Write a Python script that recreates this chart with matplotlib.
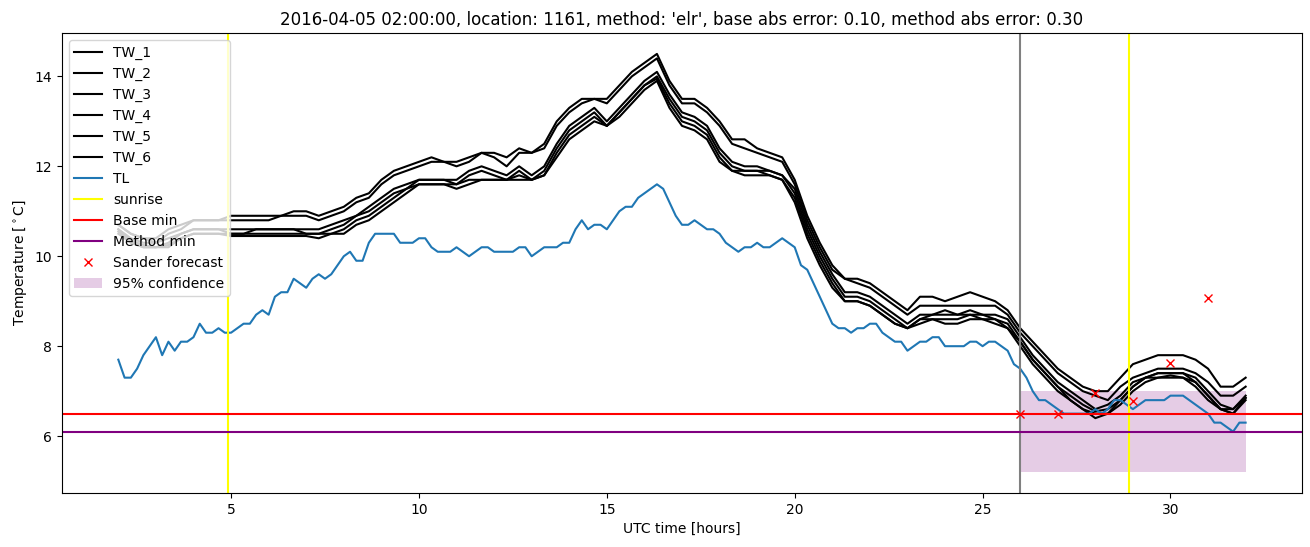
import numpy as np
import matplotlib
matplotlib.use('Agg')
import matplotlib.pyplot as plt

# TL: 10 minute values from 02:00 to 32:00
tl = [7.7, 7.3, 7.3, 7.5, 7.8, 8.0,
      8.2, 7.8, 8.1, 7.9, 8.1, 8.1,
      8.2, 8.5, 8.3, 8.3, 8.4, 8.3,
      8.3, 8.4, 8.5, 8.5, 8.7, 8.8,
      8.7, 9.1, 9.2, 9.2, 9.5, 9.4,
      9.3, 9.5, 9.6, 9.5, 9.6, 9.8,
      10.0, 10.1, 9.9, 9.9, 10.3, 10.5,
      10.5, 10.5, 10.5, 10.3, 10.3, 10.3,
      10.4, 10.4, 10.2, 10.1, 10.1, 10.1,
      10.2, 10.1, 10.0, 10.1, 10.2, 10.2,
      10.1, 10.1, 10.1, 10.1, 10.2, 10.2,
      10.0, 10.1, 10.2, 10.2, 10.2, 10.3,
      10.3, 10.6, 10.8, 10.6, 10.7, 10.7,
      10.6, 10.8, 11.0, 11.1, 11.1, 11.3,
      11.4, 11.5, 11.6, 11.5, 11.2, 10.9,
      10.7, 10.7, 10.8, 10.7, 10.6, 10.6,
      10.5, 10.3, 10.2, 10.1, 10.2, 10.2,
      10.3, 10.2, 10.2, 10.3, 10.4, 10.3,
      10.2, 9.8, 9.7, 9.4, 9.1, 8.8,
      8.5, 8.4, 8.4, 8.3, 8.4, 8.4,
      8.5, 8.5, 8.3, 8.2, 8.1, 8.1,
      7.9, 8.0, 8.1, 8.1, 8.2, 8.2,
      8.0, 8.0, 8.0, 8.0, 8.1, 8.1,
      8.0, 8.1, 8.1, 8.0, 7.9, 7.6,
      7.5, 7.3, 7.0, 6.8, 6.8, 6.7,
      6.6, 6.5, 6.5, 6.5, 6.5, 6.5,
      6.6, 6.5, 6.6, 6.8, 6.8, 6.7,
      6.6, 6.7, 6.8, 6.8, 6.8, 6.8,
      6.9, 6.9, 6.9, 6.8, 6.7, 6.6,
      6.5, 6.3, 6.3, 6.2, 6.1, 6.3,
      6.3]

# TW_1..TW_6: 20 minute values from 02:00 to 32:00
tw_1 = [10.7, 10.5, 10.4, 10.4, 10.6, 10.7, 10.8, 10.8, 10.8, 10.9, 10.9, 10.9,
        10.9, 10.9, 11.0, 11.0, 10.9, 11.0, 11.1, 11.3, 11.4, 11.7, 11.9, 12.0,
        12.1, 12.2, 12.1, 12.1, 12.2, 12.3, 12.3, 12.2, 12.4, 12.3, 12.5, 13.0,
        13.3, 13.5, 13.5, 13.5, 13.8, 14.1, 14.3, 14.5, 13.9, 13.5, 13.5, 13.3,
        13.0, 12.6, 12.6, 12.4, 12.3, 12.2, 11.7, 10.9, 10.3, 9.8, 9.5, 9.5,
        9.4, 9.2, 9.0, 8.8, 9.1, 9.1, 9.0, 9.1, 9.2, 9.1, 9.0, 8.8,
        8.4, 8.1, 7.8, 7.5, 7.3, 7.1, 7.0, 7.0, 7.3, 7.6, 7.7, 7.8,
        7.8, 7.8, 7.7, 7.5, 7.1, 7.1, 7.3]
tw_2 = [10.7, 10.5, 10.4, 10.3, 10.5, 10.6, 10.8, 10.8, 10.8, 10.8, 10.8, 10.8,
        10.8, 10.9, 10.9, 10.9, 10.8, 10.9, 11.0, 11.2, 11.3, 11.6, 11.8, 11.9,
        12.0, 12.1, 12.1, 12.0, 12.1, 12.3, 12.2, 12.0, 12.3, 12.3, 12.4, 12.9,
        13.2, 13.4, 13.5, 13.4, 13.7, 14.0, 14.2, 14.4, 13.8, 13.4, 13.4, 13.2,
        12.9, 12.5, 12.4, 12.3, 12.2, 12.1, 11.6, 10.8, 10.2, 9.7, 9.5, 9.4,
        9.3, 9.1, 8.9, 8.7, 8.9, 8.9, 8.9, 8.9, 8.9, 8.9, 8.9, 8.7,
        8.3, 8.0, 7.7, 7.4, 7.2, 7.0, 6.9, 6.8, 7.1, 7.3, 7.4, 7.5,
        7.5, 7.5, 7.4, 7.2, 6.9, 6.9, 7.1]
tw_3 = [10.6, 10.4, 10.3, 10.3, 10.4, 10.5, 10.6, 10.6, 10.6, 10.6, 10.6, 10.6,
        10.6, 10.6, 10.6, 10.6, 10.6, 10.7, 10.8, 10.9, 11.1, 11.3, 11.5, 11.6,
        11.7, 11.7, 11.7, 11.7, 11.9, 12.0, 11.9, 11.8, 12.0, 11.8, 12.0, 12.5,
        12.9, 13.1, 13.3, 13.0, 13.3, 13.6, 13.9, 14.1, 13.6, 13.2, 13.1, 12.9,
        12.4, 12.1, 12.0, 12.0, 11.9, 11.8, 11.5, 10.7, 10.1, 9.6, 9.2, 9.2,
        9.1, 8.9, 8.7, 8.5, 8.7, 8.7, 8.8, 8.7, 8.8, 8.7, 8.7, 8.6,
        8.2, 7.8, 7.5, 7.2, 7.0, 6.8, 6.6, 6.7, 6.9, 7.2, 7.3, 7.4,
        7.4, 7.4, 7.3, 7.0, 6.7, 6.6, 6.9]
tw_4 = [10.6, 10.35, 10.25, 10.2, 10.3, 10.5, 10.6, 10.6, 10.6, 10.5, 10.5, 10.6,
        10.6, 10.6, 10.6, 10.5, 10.5, 10.6, 10.7, 10.9, 11.0, 11.2, 11.4, 11.5,
        11.7, 11.7, 11.7, 11.6, 11.8, 11.9, 11.8, 11.7, 11.9, 11.7, 11.9, 12.4,
        12.8, 13.0, 13.2, 12.9, 13.2, 13.5, 13.8, 14.0, 13.5, 13.1, 13.0, 12.8,
        12.3, 12.0, 11.9, 11.9, 11.9, 11.8, 11.4, 10.6, 10.0, 9.5, 9.1, 9.1,
        9.0, 8.8, 8.6, 8.4, 8.6, 8.7, 8.7, 8.7, 8.7, 8.7, 8.6, 8.5,
        8.1, 7.7, 7.4, 7.1, 6.9, 6.7, 6.55, 6.6, 6.8, 7.1, 7.3, 7.4,
        7.4, 7.4, 7.2, 6.9, 6.6, 6.6, 6.85]
tw_5 = [10.55, 10.3, 10.2, 10.2, 10.25, 10.4, 10.5, 10.5, 10.5, 10.5, 10.5, 10.5,
        10.5, 10.5, 10.5, 10.5, 10.5, 10.5, 10.6, 10.8, 10.9, 11.1, 11.3, 11.5,
        11.6, 11.6, 11.6, 11.6, 11.7, 11.7, 11.7, 11.7, 11.8, 11.7, 11.8, 12.3,
        12.7, 12.9, 13.1, 12.9, 13.2, 13.5, 13.8, 13.95, 13.4, 13.0, 12.9, 12.7,
        12.2, 11.9, 11.9, 11.9, 11.8, 11.7, 11.3, 10.5, 9.9, 9.4, 9.0, 9.0,
        8.9, 8.7, 8.5, 8.4, 8.6, 8.6, 8.6, 8.6, 8.7, 8.6, 8.6, 8.4,
        8.1, 7.7, 7.4, 7.1, 6.8, 6.6, 6.5, 6.5, 6.8, 7.1, 7.3, 7.3,
        7.35, 7.3, 7.2, 6.9, 6.6, 6.5, 6.85]
tw_6 = [10.5, 10.3, 10.2, 10.2, 10.2, 10.4, 10.5, 10.5, 10.5, 10.45, 10.45, 10.45,
        10.45, 10.45, 10.45, 10.45, 10.4, 10.5, 10.5, 10.7, 10.8, 11.0, 11.2, 11.4,
        11.6, 11.6, 11.6, 11.5, 11.6, 11.7, 11.7, 11.7, 11.7, 11.7, 11.8, 12.2,
        12.6, 12.8, 13.0, 12.9, 13.1, 13.4, 13.7, 13.9, 13.3, 12.9, 12.8, 12.6,
        12.1, 11.9, 11.8, 11.8, 11.8, 11.7, 11.2, 10.4, 9.8, 9.3, 9.0, 9.0,
        8.9, 8.7, 8.5, 8.4, 8.5, 8.6, 8.5, 8.5, 8.6, 8.6, 8.5, 8.4,
        8.0, 7.6, 7.3, 7.0, 6.8, 6.6, 6.4, 6.5, 6.7, 7.0, 7.2, 7.3,
        7.3, 7.3, 7.1, 6.8, 6.6, 6.5, 6.8]

sunrise = [4.93, 28.9]
now_hour = 26.0
base_min = 6.5
method_min = 6.1

sander_hours = [26, 27, 28, 29, 30, 31]
sander_temp = [6.5, 6.5, 6.95, 6.78, 7.62, 9.07]

conf_hours = [26, 32]
conf_low = [5.2, 5.2]
conf_high = [7.0, 7.0]

t_tl = 2 + np.arange(len(tl)) / 6
t_tw = 2 + np.arange(len(tw_1)) / 3

fig, ax = plt.subplots(figsize=(13.1, 5.47), dpi=100)
for i, tw in enumerate([tw_1, tw_2, tw_3, tw_4, tw_5, tw_6]):
    ax.plot(t_tw, tw, color='k', label=f'TW_{i + 1}')
ax.plot(t_tl, tl, label='TL')
ax.axvline(sunrise[0], color='yellow', label='sunrise')
ax.axvline(sunrise[1], color='yellow')
ax.axvline(now_hour, color='grey')
ax.axhline(base_min, color='red', label='Base min')
ax.axhline(method_min, color='purple', label='Method min')
ax.plot(sander_hours, sander_temp, 'rx', label='Sander forecast')
ax.fill_between(conf_hours, conf_low, conf_high, color='purple', alpha=0.2,
                linewidth=0, label='95% confidence')

ax.set_title("2016-04-05 02:00:00, location: 1161, method: 'elr', "
             "base abs error: 0.10, method abs error: 0.30")
ax.set_xlabel('UTC time [hours]')
ax.set_ylabel(r'Temperature [$^\circ$C]')
ax.legend(loc='upper left')

plt.subplots_adjust(left=0.0473, right=0.9939, top=0.9397, bottom=0.0987)
plt.savefig('out.png')
